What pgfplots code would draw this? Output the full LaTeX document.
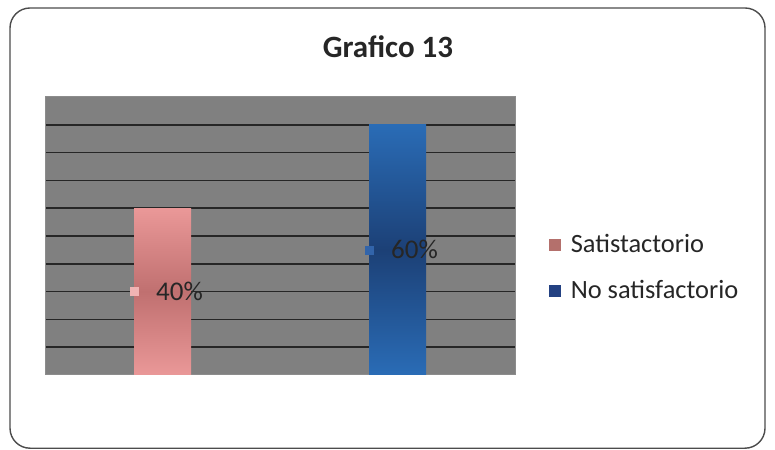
\documentclass[border=0pt]{standalone}
\usepackage{pgfplots}
\pgfplotsset{compat=1.18}
\usepackage{fontspec}
\setmainfont{Carlito}
\definecolor{bg}{RGB}{128,128,128}
\definecolor{pinkL}{RGB}{234,152,152}
\definecolor{pinkD}{RGB}{192,112,112}
\definecolor{blueL}{RGB}{42,108,182}
\definecolor{blueD}{RGB}{28,64,118}
\definecolor{pinkK}{RGB}{180,112,108}
\definecolor{blueK}{RGB}{35,65,130}
\definecolor{pinkS}{RGB}{240,180,180}
\definecolor{blueS}{RGB}{50,100,170}
\begin{document}
\begin{tikzpicture}
\useasboundingbox (-22.5pt,187.5pt) rectangle (365pt,-37pt);
\begin{axis}[
  at={(0pt,0pt)}, anchor=south west,
  scale only axis, width=235pt, height=139pt,
  xmin=-0.5, xmax=1.5, ymin=0, ymax=66.6667,
  xtick=\empty,
  ytick={6.6667,13.3333,20,26.6667,33.3333,40,46.6667,53.3333,60},
  yticklabel=\empty,
  major tick length=0pt,
  ymajorgrids, grid style={black!85, line width=0.8pt},
  axis background/.style={fill=bg},
  axis line style={draw=black!45, line width=0.5pt},
  visualization depends on=y \as \rawy,
  every node near coord/.append style={anchor=center, yshift={-1.0425pt*\rawy}, xshift=2pt, font=\fontsize{13.5}{15}\selectfont, text=black!85},
  legend style={at={(1.071,0.385)}, anchor=west, draw=none, fill=none, font=\fontsize{13.2}{15}\selectfont, text=black!85, row sep=8pt, inner sep=0pt, cells={anchor=west}},
]
\addplot[ybar, bar width=28.5pt, bar shift=0pt, draw=none, top color=pinkL, bottom color=pinkL, middle color=pinkD,
  legend image code/.code={\pgfpathrectangle{\pgfpoint{0pt}{-3pt}}{\pgfpoint{6pt}{6pt}}\pgfsetfillcolor{pinkK}\pgfusepath{fill}\path (0pt,0pt) -- (9pt,0pt);},
  nodes near coords={\raisebox{2.2pt}{\textcolor{pinkS}{\rule{4.5pt}{4.5pt}}}\hspace{8.5pt}40\%}] coordinates {(0,40)};
\addlegendentry{Satistactorio}
\addplot[ybar, bar width=28.5pt, bar shift=0pt, draw=none, top color=blueL, bottom color=blueL, middle color=blueD,
  legend image code/.code={\pgfpathrectangle{\pgfpoint{0pt}{-3pt}}{\pgfpoint{6pt}{6pt}}\pgfsetfillcolor{blueK}\pgfusepath{fill}\path (0pt,0pt) -- (9pt,0pt);},
  nodes near coords={\raisebox{2.2pt}{\textcolor{blueS}{\rule{4.5pt}{4.5pt}}}\hspace{8.5pt}60\%}] coordinates {(1,60)};
\addlegendentry{No satisfactorio}
\end{axis}
\draw[rounded corners=10pt, draw=black!70, line width=0.7pt] (-17.5pt,183.5pt) rectangle (360pt,-36.6pt);
\node[font=\bfseries\fontsize{15.5}{18}\selectfont, text=black!85] at (171.5pt,164pt) {Grafico 13};
\end{tikzpicture}
\end{document}
